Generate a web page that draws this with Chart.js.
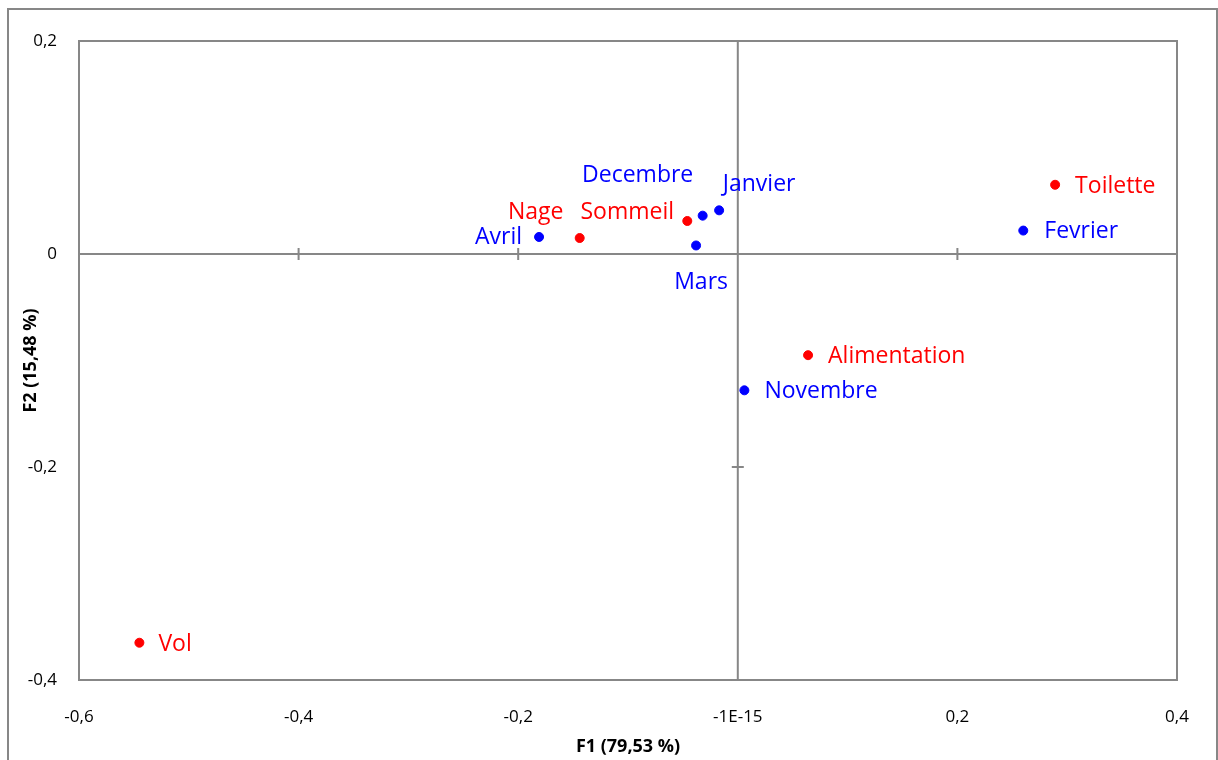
<!DOCTYPE html>
<html lang="fr">
<head>
<meta charset="UTF-8">
<title>F1 x F2</title>
<script src="https://cdn.jsdelivr.net/npm/chart.js"></script>
<style>
    body { margin: 0; background: #fff; overflow: hidden; }
    .wrap { width: 1218px; height: 760px; position: relative; }
</style>
</head>
<body>
<div class="wrap"><canvas id="chart" width="1218" height="760"></canvas></div>
<script>
// months (blue)
const monthNames = ['Avril', 'Mars', 'Decembre', 'Janvier', 'Fevrier', 'Novembre'];
const monthF1 = [-0.181, -0.038, -0.032, -0.017, 0.260, 0.006];
const monthF2 = [0.016, 0.008, 0.036, 0.041, 0.022, -0.128];

// activities (red)
const activityNames = ['Nage', 'Sommeil', 'Toilette', 'Alimentation', 'Vol'];
const activityF1 = [-0.144, -0.046, 0.289, 0.064, -0.545];
const activityF2 = [0.015, 0.031, 0.065, -0.095, -0.365];

const xTickLabels = ['-0,6', '-0,4', '-0,2', '-1E-15', '0,2', '0,4'];
const yTickLabels = ['-0,4', '-0,2', '0', '0,2'];

// label placement next to each point: [dx, dy, align]
const labelPlacement = {
    'Avril': [-17, 0, 'right'],
    'Mars': [5, 37, 'center'],
    'Decembre': [-65, -40, 'center'],
    'Janvier': [40, -26, 'center'],
    'Fevrier': [21, 1, 'left'],
    'Novembre': [20, 1, 'left'],
    'Nage': [-44, -26, 'center'],
    'Sommeil': [-60, -9, 'center'],
    'Toilette': [20, 2, 'left'],
    'Alimentation': [20, 1, 'left'],
    'Vol': [19, 2, 'left']
};

const toPoints = (xs, ys) => xs.map((x, i) => ({ x: x, y: ys[i] }));

const GREY = '#878787';

// outer frame, plot frame, axes through origin with cross ticks
const framePlugin = {
    id: 'frame',
    beforeDatasetsDraw(chart) {
        const { ctx, chartArea: a, scales: { x, y } } = chart;
        ctx.save();
        ctx.strokeStyle = GREY;
        ctx.lineWidth = 2;
        ctx.strokeRect(8, 9, 1209, 800);
        ctx.strokeRect(a.left, a.top, a.right - a.left, a.bottom - a.top);

        const x0 = x.getPixelForValue(0);
        const y0 = y.getPixelForValue(0);
        ctx.beginPath();
        ctx.moveTo(a.left, y0); ctx.lineTo(a.right, y0);
        ctx.moveTo(x0, a.top); ctx.lineTo(x0, a.bottom);
        x.ticks.forEach(t => {
            const px = x.getPixelForValue(t.value);
            ctx.moveTo(px, y0 - 6); ctx.lineTo(px, y0 + 6);
        });
        y.ticks.forEach(t => {
            const py = y.getPixelForValue(t.value);
            ctx.moveTo(x0 - 6, py); ctx.lineTo(x0 + 6, py);
        });
        ctx.stroke();
        ctx.restore();
    }
};

const labelPlugin = {
    id: 'pointLabels',
    afterDatasetsDraw(chart) {
        const ctx = chart.ctx;
        ctx.save();
        ctx.font = '23px "Open Sans", sans-serif';
        ctx.textBaseline = 'middle';
        chart.data.datasets.forEach((ds, di) => {
            const meta = chart.getDatasetMeta(di);
            ctx.fillStyle = ds.backgroundColor;
            meta.data.forEach((el, i) => {
                const name = ds.names[i];
                const p = labelPlacement[name] || [15, 0, 'left'];
                ctx.textAlign = p[2];
                ctx.fillText(name, el.x + p[0], el.y + p[1]);
            });
        });
        ctx.restore();
    }
};

new Chart(document.getElementById('chart'), {
    type: 'scatter',
    data: {
        datasets: [
            {
                label: 'Mois',
                names: monthNames,
                data: toPoints(monthF1, monthF2),
                backgroundColor: '#0000ff',
                borderColor: '#0000ff',
                pointRadius: 4.5,
                pointHoverRadius: 4.5
            },
            {
                label: 'Activités',
                names: activityNames,
                data: toPoints(activityF1, activityF2),
                backgroundColor: '#ff0000',
                borderColor: '#ff0000',
                pointRadius: 4.5,
                pointHoverRadius: 4.5
            }
        ]
    },
    options: {
        responsive: false,
        animation: false,
        layout: { padding: { left: 0, top: 41, right: 41, bottom: 0 } },
        plugins: { legend: { display: false }, tooltip: { enabled: false } },
        scales: {
            x: {
                min: -0.6, max: 0.4,
                grid: { display: false, drawTicks: false },
                border: { display: false },
                ticks: {
                    stepSize: 0.2,
                    padding: 27,
                    color: '#000',
                    maxRotation: 0,
                    font: { family: '"Open Sans", sans-serif', size: 17 },
                    callback: (v, i) => xTickLabels[i]
                },
                title: {
                    display: true,
                    text: 'F1 (79,53 %)',
                    color: '#000',
                    padding: { top: 0, bottom: 2 },
                    font: { family: '"Open Sans", sans-serif', size: 18, weight: 'bold' }
                },
                afterFit: s => { s.height = 80; }
            },
            y: {
                min: -0.4, max: 0.2,
                grid: { display: false, drawTicks: false },
                border: { display: false },
                ticks: {
                    stepSize: 0.2,
                    padding: 22,
                    color: '#000',
                    font: { family: '"Open Sans", sans-serif', size: 17 },
                    callback: (v, i) => yTickLabels[i]
                },
                title: {
                    display: true,
                    text: 'F2 (15,48 %)',
                    color: '#000',
                    padding: { top: 20, bottom: 0 },
                    font: { family: '"Open Sans", sans-serif', size: 18, weight: 'bold' }
                },
                afterFit: s => { s.width = 79; }
            }
        }
    },
    plugins: [framePlugin, labelPlugin]
});
</script>
</body>
</html>
